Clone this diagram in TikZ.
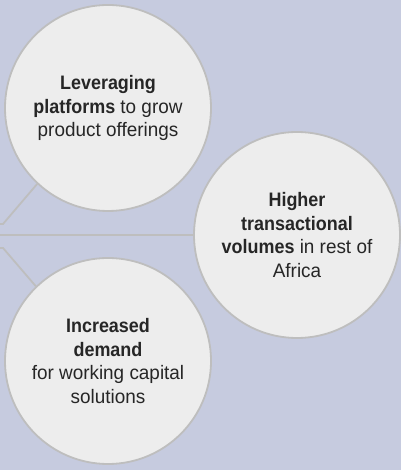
\documentclass[tikz,border=0pt]{standalone}
\usepackage{fontspec}
\setmainfont{Liberation Sans}[FakeStretch=0.97,BoldFeatures={FakeStretch=0.92}]
\begin{document}
\begin{tikzpicture}[x=1pt,y=1pt,
  bubble/.style={circle, draw=edgegray, line width=1.8pt, fill=bubblefill,
    minimum size=206pt, inner sep=0pt, align=center, text=textdark,
    font=\fontsize{19.5}{23.5}\selectfont},
  link/.style={draw=edgegray, line width=1.8pt}]
  \definecolor{bgblue}{HTML}{C6CBDF}
  \definecolor{bubblefill}{HTML}{EDEDED}
  \definecolor{edgegray}{HTML}{BEBEBE}
  \definecolor{textdark}{HTML}{262626}
  % canvas
  \fill[bgblue] (0,0) rectangle (401,470);
  \useasboundingbox (0,0) rectangle (401,470);
  % connector start points on the left edge
  \coordinate (ta) at (0,246);
  \coordinate (tb) at (3,246);
  \coordinate (ma) at (0,235);
  \coordinate (ba) at (0,222);
  \coordinate (bb) at (3,222);
  % bubbles
  \node[bubble] (top) at (108,362)
    {\textbf{Leveraging}\\\textbf{platforms} to grow\\product offerings};
  \node[bubble] (right) at (297,235)
    {\textbf{Higher}\\\textbf{transactional}\\\textbf{volumes} in rest of\\Africa};
  \node[bubble] (bottom) at (108,109)
    {\textbf{Increased}\\\textbf{demand}\\for working capital\\solutions};
  % connectors
  \draw[link] (ta) -- (tb) -- (top.227.6);
  \draw[link] (ma) -- (right.west);
  \draw[link] (ba) -- (bb) -- (bottom.134.6);
\end{tikzpicture}
\end{document}
